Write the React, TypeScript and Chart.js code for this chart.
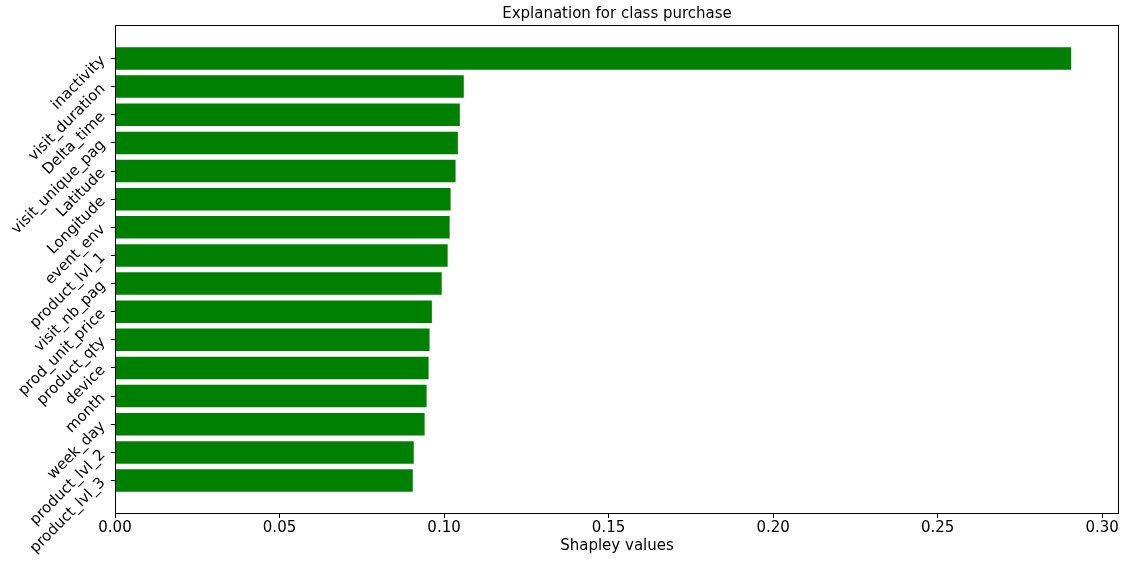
import React, { useEffect, useRef } from "react";
import { Chart, registerables } from "chart.js";

Chart.register(...registerables);

const categories: string[] = [
  "inactivity",
  "visit_duration",
  "Delta_time",
  "visit_unique_pag",
  "Latitude",
  "Longitude",
  "event_env",
  "product_lvl_1",
  "visit_nb_pag",
  "prod_unit_price",
  "product_qty",
  "device",
  "month",
  "week_day",
  "product_lvl_2",
  "product_lvl_3",
];

const shapleyValues: number[] = [
  0.2906, 0.106, 0.1048, 0.1042, 0.1035, 0.102, 0.1017, 0.1011, 0.0993,
  0.0963, 0.0956, 0.0953, 0.0947, 0.0941, 0.0908, 0.0905,
];

const xTicks: number[] = [0, 0.05, 0.1, 0.15, 0.2, 0.25, 0.3];

const FONT = "'DejaVu Sans', sans-serif";

const framePlugin = {
  id: "frame",
  afterDraw(chart: any) {
    const { ctx, chartArea } = chart;
    const l = Math.round(chartArea.left) + 0.5;
    const r = Math.round(chartArea.right) - 0.5;
    const t = Math.round(chartArea.top) + 0.5;
    const b = Math.round(chartArea.bottom) - 0.5;
    ctx.save();
    ctx.strokeStyle = "#000";
    ctx.lineWidth = 1;
    ctx.strokeRect(l, t, r - l, b - t);
    ctx.restore();
  },
};

export default function App() {
  const ref = useRef<HTMLCanvasElement | null>(null);

  useEffect(() => {
    document.body.style.margin = "0";
    if (!ref.current) return;
    Chart.defaults.color = "#000";
    Chart.defaults.font.family = FONT;
    const n = categories.length;
    const chart = new Chart(ref.current, {
      type: "bar",
      data: {
        datasets: [
          {
            data: shapleyValues.map((v, i) => ({ x: v, y: i })),
            backgroundColor: "#008000",
            borderWidth: 0,
            categoryPercentage: 1,
            barPercentage: 0.8,
          },
        ],
      },
      options: {
        indexAxis: "y",
        responsive: false,
        animation: false,
        layout: { padding: { left: 0, right: 12, top: 0, bottom: 0 } },
        plugins: {
          legend: { display: false },
          tooltip: { enabled: false },
          title: { display: false },
        },
        scales: {
          x: {
            type: "linear",
            position: "bottom",
            min: 0,
            max: 0.30513,
            afterBuildTicks: (scale: any) => {
              scale.ticks = xTicks.map((v) => ({ value: v }));
            },
            afterFit: (scale: any) => {
              scale.height = 50;
            },
            ticks: {
              color: "#000",
              font: { family: FONT, size: 15 },
              padding: 1,
              maxRotation: 0,
              autoSkip: false,
              callback: (v: any) => Number(v).toFixed(2),
            },
            grid: {
              drawOnChartArea: false,
              drawTicks: true,
              tickLength: 4,
              color: "#000",
            },
            border: { display: false },
            title: {
              display: true,
              text: "Shapley values",
              color: "#000",
              font: { family: FONT, size: 15 },
              padding: { top: 0, bottom: 9 },
            },
          },
          xTitle: {
            type: "linear",
            position: "top",
            min: 0,
            max: 1,
            afterFit: (scale: any) => {
              scale.height = 25;
            },
            ticks: { display: false },
            grid: { display: false, drawTicks: false },
            border: { display: false },
            title: {
              display: true,
              text: "Explanation for class purchase",
              color: "#000",
              font: { family: FONT, size: 15, weight: "normal" },
              padding: { top: 5, bottom: 0 },
            },
          },
          y: {
            type: "linear",
            position: "left",
            reverse: true,
            offset: false,
            min: -1.19,
            max: n - 1 + 1.19,
            afterBuildTicks: (scale: any) => {
              scale.ticks = categories.map((_, i) => ({ value: i }));
            },
            afterFit: (scale: any) => {
              scale.width = 115;
            },
            ticks: {
              color: "#000",
              font: { family: FONT, size: 15 },
              padding: 8,
              minRotation: 45,
              maxRotation: 45,
              autoSkip: false,
              callback: (_v: any, index: number) => categories[index] ?? "",
            },
            grid: {
              offset: false,
              drawOnChartArea: false,
              drawTicks: true,
              tickLength: 4,
              color: "#000",
            },
            border: { display: false },
          },
        },
      } as any,
      plugins: [framePlugin],
    });
    return () => chart.destroy();
  }, []);

  return (
    <div style={{ width: 1131, height: 564, background: "#fff" }}>
      <canvas ref={ref} width={1131} height={564} />
    </div>
  );
}
